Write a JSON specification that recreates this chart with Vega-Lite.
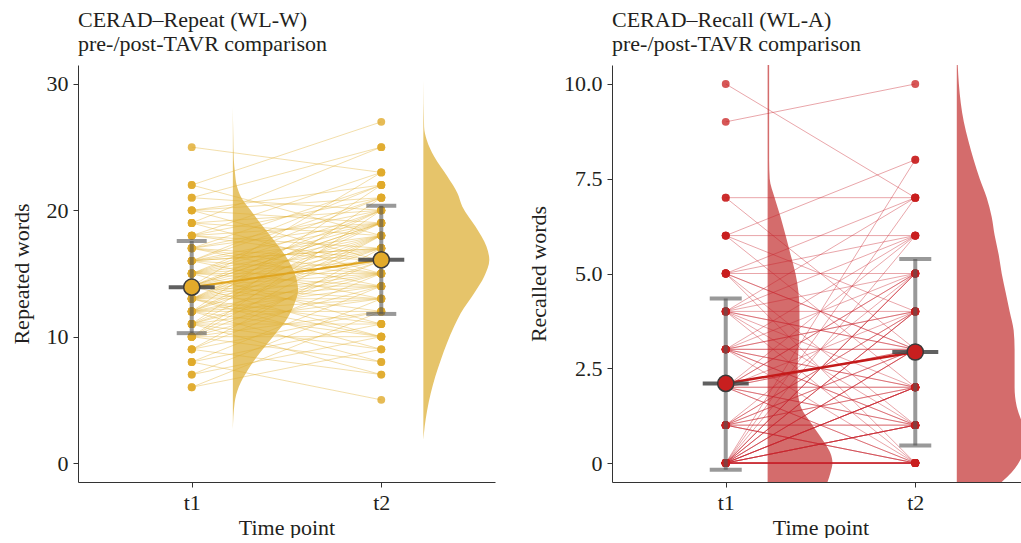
{
"$schema": "https://vega.github.io/schema/vega-lite/v6.json",
"background": "white",
"padding": {"left": 10, "top": 9, "right": 0, "bottom": 0},
"spacing": 117,
"bounds": "flush",
"datasets": {
"L": [{"a":6,"b":9},{"a":6,"b":12},{"a":7,"b":10},{"a":7,"b":13},{"a":8,"b":5},{"a":8,"b":11},{"a":8,"b":14},{"a":9,"b":7},{"a":9,"b":12},{"a":9,"b":15},{"a":9,"b":17},{"a":10,"b":8},{"a":10,"b":10},{"a":10,"b":12},{"a":10,"b":14},{"a":10,"b":16},{"a":10,"b":18},{"a":10,"b":20},{"a":11,"b":7},{"a":11,"b":9},{"a":11,"b":11},{"a":11,"b":13},{"a":11,"b":15},{"a":11,"b":16},{"a":11,"b":18},{"a":11,"b":21},{"a":12,"b":8},{"a":12,"b":10},{"a":12,"b":12},{"a":12,"b":13},{"a":12,"b":14},{"a":12,"b":15},{"a":12,"b":17},{"a":12,"b":18},{"a":12,"b":19},{"a":12,"b":22},{"a":13,"b":9},{"a":13,"b":10},{"a":13,"b":11},{"a":13,"b":13},{"a":13,"b":14},{"a":13,"b":15},{"a":13,"b":16},{"a":13,"b":17},{"a":13,"b":18},{"a":13,"b":19},{"a":13,"b":20},{"a":14,"b":10},{"a":14,"b":12},{"a":14,"b":13},{"a":14,"b":14},{"a":14,"b":15},{"a":14,"b":16},{"a":14,"b":17},{"a":14,"b":18},{"a":14,"b":19},{"a":14,"b":19},{"a":14,"b":20},{"a":14,"b":23},{"a":15,"b":11},{"a":15,"b":14},{"a":15,"b":15},{"a":15,"b":16},{"a":15,"b":17},{"a":15,"b":18},{"a":15,"b":19},{"a":15,"b":20},{"a":15,"b":21},{"a":16,"b":17},{"a":16,"b":13},{"a":16,"b":15},{"a":16,"b":17},{"a":16,"b":18},{"a":16,"b":19},{"a":16,"b":21},{"a":16,"b":22},{"a":17,"b":14},{"a":17,"b":15},{"a":17,"b":16},{"a":17,"b":19},{"a":17,"b":20},{"a":17,"b":22},{"a":18,"b":16},{"a":18,"b":17},{"a":18,"b":19},{"a":18,"b":21},{"a":18,"b":23},{"a":19,"b":15},{"a":19,"b":18},{"a":19,"b":20},{"a":19,"b":25},{"a":20,"b":16},{"a":20,"b":19},{"a":20,"b":21},{"a":20,"b":22},{"a":21,"b":20},{"a":21,"b":25},{"a":22,"b":18},{"a":22,"b":27},{"a":25,"b":23}],
"R": [{"a":10,"b":7},{"a":9,"b":10},{"a":7,"b":7},{"a":7,"b":3},{"a":6,"b":6},{"a":6,"b":8},{"a":6,"b":4},{"a":6,"b":2},{"a":5,"b":6},{"a":5,"b":5},{"a":5,"b":3},{"a":5,"b":1},{"a":5,"b":7},{"a":5,"b":3},{"a":5,"b":0},{"a":4,"b":4},{"a":4,"b":6},{"a":4,"b":5},{"a":4,"b":2},{"a":4,"b":3},{"a":4,"b":1},{"a":4,"b":0},{"a":4,"b":7},{"a":4,"b":3},{"a":3,"b":3},{"a":3,"b":5},{"a":3,"b":2},{"a":3,"b":4},{"a":3,"b":6},{"a":3,"b":1},{"a":3,"b":0},{"a":3,"b":3},{"a":3,"b":1},{"a":3,"b":2},{"a":3,"b":4},{"a":2,"b":2},{"a":2,"b":3},{"a":2,"b":4},{"a":2,"b":5},{"a":2,"b":1},{"a":2,"b":0},{"a":2,"b":6},{"a":2,"b":2},{"a":2,"b":3},{"a":2,"b":1},{"a":2,"b":5},{"a":2,"b":0},{"a":1,"b":1},{"a":1,"b":2},{"a":1,"b":3},{"a":1,"b":0},{"a":1,"b":4},{"a":1,"b":5},{"a":1,"b":2},{"a":1,"b":1},{"a":1,"b":3},{"a":1,"b":0},{"a":1,"b":0},{"a":1,"b":4},{"a":0,"b":0},{"a":0,"b":0},{"a":0,"b":0},{"a":0,"b":0},{"a":0,"b":0},{"a":0,"b":0},{"a":0,"b":0},{"a":0,"b":0},{"a":0,"b":0},{"a":0,"b":1},{"a":0,"b":1},{"a":0,"b":1},{"a":0,"b":1},{"a":0,"b":1},{"a":0,"b":2},{"a":0,"b":2},{"a":0,"b":2},{"a":0,"b":2},{"a":0,"b":2},{"a":0,"b":3},{"a":0,"b":3},{"a":0,"b":3},{"a":0,"b":4},{"a":0,"b":4},{"a":0,"b":4},{"a":0,"b":5},{"a":0,"b":5},{"a":0,"b":5},{"a":0,"b":6},{"a":0,"b":7},{"a":0,"b":8}],
"LS": [{"t":1,"m":13.92,"lo":10.28,"hi":17.57},{"t":2,"m":16.08,"lo":11.8,"hi":20.36}],
"RS": [{"t":1,"m":2.1,"lo":-0.18,"hi":4.34},{"t":2,"m":2.93,"lo":0.46,"hi":5.38}],
"LV": [{"t":1,"v":2.63,"e":1.217},{"t":1,"v":4.74,"e":1.226},{"t":1,"v":6.05,"e":1.249},{"t":1,"v":7.37,"e":1.296},{"t":1,"v":8.69,"e":1.358},{"t":1,"v":10.0,"e":1.429},{"t":1,"v":11.33,"e":1.499},{"t":1,"v":12.65,"e":1.543},{"t":1,"v":13.7,"e":1.561},{"t":1,"v":14.76,"e":1.549},{"t":1,"v":16.08,"e":1.508},{"t":1,"v":17.39,"e":1.446},{"t":1,"v":18.71,"e":1.376},{"t":1,"v":20.03,"e":1.31},{"t":1,"v":21.0,"e":1.262},{"t":1,"v":22.0,"e":1.237},{"t":1,"v":23.0,"e":1.228},{"t":1,"v":24.0,"e":1.222},{"t":1,"v":26.0,"e":1.219},{"t":1,"v":28.2,"e":1.217},
{"t":2,"v":1.84,"e":2.222},{"t":2,"v":2.89,"e":2.229},{"t":2,"v":5.53,"e":2.261},{"t":2,"v":8.16,"e":2.314},{"t":2,"v":10.8,"e":2.384},{"t":2,"v":11.86,"e":2.419},{"t":2,"v":13.44,"e":2.49},{"t":2,"v":14.76,"e":2.543},{"t":2,"v":16.08,"e":2.57},{"t":2,"v":17.13,"e":2.555},{"t":2,"v":18.71,"e":2.497},{"t":2,"v":20.29,"e":2.428},{"t":2,"v":21.35,"e":2.402},{"t":2,"v":22.67,"e":2.349},{"t":2,"v":24.25,"e":2.279},{"t":2,"v":25.57,"e":2.24},{"t":2,"v":26.6,"e":2.226},{"t":2,"v":30.3,"e":2.222}],
"RV": [{"t":1,"v":-0.5,"e":1.537},{"t":1,"v":-0.25,"e":1.553},{"t":1,"v":0,"e":1.563},{"t":1,"v":0.25,"e":1.553},{"t":1,"v":0.5,"e":1.526},{"t":1,"v":1.0,"e":1.458},{"t":1,"v":1.5,"e":1.395},{"t":1,"v":2.0,"e":1.379},{"t":1,"v":2.5,"e":1.379},{"t":1,"v":3.0,"e":1.384},{"t":1,"v":3.5,"e":1.389},{"t":1,"v":4.0,"e":1.389},{"t":1,"v":4.5,"e":1.384},{"t":1,"v":5.0,"e":1.368},{"t":1,"v":5.5,"e":1.342},{"t":1,"v":6.0,"e":1.316},{"t":1,"v":6.5,"e":1.289},{"t":1,"v":7.0,"e":1.258},{"t":1,"v":7.5,"e":1.232},{"t":1,"v":8.0,"e":1.229},{"t":1,"v":10.5,"e":1.229},
{"t":2,"v":-0.5,"e":2.456},{"t":2,"v":-0.25,"e":2.508},{"t":2,"v":0,"e":2.545},{"t":2,"v":0.5,"e":2.577},{"t":2,"v":1.0,"e":2.566},{"t":2,"v":1.5,"e":2.535},{"t":2,"v":2.0,"e":2.524},{"t":2,"v":2.5,"e":2.524},{"t":2,"v":3.0,"e":2.524},{"t":2,"v":3.5,"e":2.519},{"t":2,"v":4.0,"e":2.498},{"t":2,"v":4.5,"e":2.477},{"t":2,"v":5.0,"e":2.456},{"t":2,"v":5.5,"e":2.44},{"t":2,"v":6.0,"e":2.419},{"t":2,"v":6.5,"e":2.403},{"t":2,"v":7.0,"e":2.377},{"t":2,"v":7.5,"e":2.34},{"t":2,"v":8.0,"e":2.308},{"t":2,"v":8.5,"e":2.28},{"t":2,"v":9.0,"e":2.256},{"t":2,"v":9.5,"e":2.24},{"t":2,"v":10.0,"e":2.23},{"t":2,"v":10.5,"e":2.224}]
},
"hconcat": [
{
"width": 417, "height": 417,
"title": {"text": ["CERAD–Repeat (WL-W)", "pre-/post-TAVR comparison"]},
"layer": [
{"data": {"name": "LV"}, "transform": [{"filter": "datum.t == 1"}],
 "mark": {"type": "area", "orient": "horizontal", "interpolate": "monotone", "color": "#E6C46A", "opacity": 1, "clip": true},
 "encoding": {
  "y": {"field": "v", "type": "quantitative", "scale": {"domain": [-1.5, 31.5], "nice": false, "zero": false}, "axis": {"values": [0, 10, 20, 30], "title": "Repeated words"}},
  "x": {"field": "e", "type": "quantitative", "stack": null, "scale": {"domain": [0.4, 2.6], "nice": false, "zero": false}, "axis": {"values": [1, 2], "labelExpr": "'t' + datum.value", "title": "Time point"}},
  "x2": {"datum": 1.217}}},
{"data": {"name": "LV"}, "transform": [{"filter": "datum.t == 2"}],
 "mark": {"type": "area", "orient": "horizontal", "interpolate": "monotone", "color": "#E6C46A", "opacity": 1, "clip": true},
 "encoding": {
  "y": {"field": "v", "type": "quantitative"},
  "x": {"field": "e", "type": "quantitative", "stack": null},
  "x2": {"datum": 2.222}}},
{"data": {"name": "L"},
 "mark": {"type": "rule", "color": "#E0AE30", "opacity": 0.4, "strokeWidth": 1},
 "encoding": {"x": {"datum": 1, "type": "quantitative"}, "x2": {"datum": 2}, "y": {"field": "a", "type": "quantitative"}, "y2": {"field": "b"}}},
{"data": {"name": "L"},
 "mark": {"type": "circle", "size": 62, "color": "#E0AA2A", "opacity": 0.8},
 "encoding": {"x": {"datum": 1, "type": "quantitative"}, "y": {"field": "a", "type": "quantitative"}}},
{"data": {"name": "L"},
 "mark": {"type": "circle", "size": 62, "color": "#E0AA2A", "opacity": 0.8},
 "encoding": {"x": {"datum": 2, "type": "quantitative"}, "y": {"field": "b", "type": "quantitative"}}},
{"data": {"name": "LS"},
 "mark": {"type": "line", "color": "#E0A520", "strokeWidth": 2},
 "encoding": {"x": {"field": "t", "type": "quantitative"}, "y": {"field": "m", "type": "quantitative"}}},
{"data": {"name": "LS"},
 "mark": {"type": "rule", "color": "#555555", "opacity": 0.6, "strokeWidth": 4},
 "encoding": {"x": {"field": "t", "type": "quantitative"}, "y": {"field": "lo", "type": "quantitative"}, "y2": {"field": "hi"}}},
{"data": {"name": "LS"},
 "mark": {"type": "tick", "orient": "horizontal", "size": 30, "thickness": 4, "color": "#555555", "opacity": 0.6},
 "encoding": {"x": {"field": "t", "type": "quantitative"}, "y": {"field": "lo", "type": "quantitative"}}},
{"data": {"name": "LS"},
 "mark": {"type": "tick", "orient": "horizontal", "size": 30, "thickness": 4, "color": "#555555", "opacity": 0.6},
 "encoding": {"x": {"field": "t", "type": "quantitative"}, "y": {"field": "hi", "type": "quantitative"}}},
{"data": {"name": "LS"},
 "mark": {"type": "tick", "orient": "horizontal", "size": 46, "thickness": 4, "color": "#444444", "opacity": 0.85},
 "encoding": {"x": {"field": "t", "type": "quantitative"}, "y": {"field": "m", "type": "quantitative"}}},
{"data": {"name": "LS"},
 "mark": {"type": "point", "filled": true, "size": 260, "color": "#E3AA2A", "stroke": "#3a3a3a", "strokeWidth": 1.5, "opacity": 1},
 "encoding": {"x": {"field": "t", "type": "quantitative"}, "y": {"field": "m", "type": "quantitative"}}}
]
},
{
"width": 417, "height": 417,
"title": {"text": ["CERAD–Recall (WL-A)", "pre-/post-TAVR comparison"]},
"layer": [
{"data": {"name": "RV"}, "transform": [{"filter": "datum.t == 1"}],
 "mark": {"type": "area", "orient": "horizontal", "interpolate": "monotone", "color": "#D46C6C", "opacity": 1, "clip": true},
 "encoding": {
  "y": {"field": "v", "type": "quantitative", "scale": {"domain": [-0.5, 10.5], "nice": false, "zero": false}, "axis": {"values": [0, 2.5, 5, 7.5, 10], "labelExpr": "datum.value == 0 ? '0' : format(datum.value, '.1f')", "title": "Recalled words"}},
  "x": {"field": "e", "type": "quantitative", "stack": null, "scale": {"domain": [0.4, 2.6], "nice": false, "zero": false}, "axis": {"values": [1, 2], "labelExpr": "'t' + datum.value", "title": "Time point"}},
  "x2": {"datum": 1.221}}},
{"data": {"name": "RV"}, "transform": [{"filter": "datum.t == 2"}],
 "mark": {"type": "area", "orient": "horizontal", "interpolate": "monotone", "color": "#D46C6C", "opacity": 1, "clip": true},
 "encoding": {
  "y": {"field": "v", "type": "quantitative"},
  "x": {"field": "e", "type": "quantitative", "stack": null},
  "x2": {"datum": 2.219}}},
{"data": {"name": "R"},
 "mark": {"type": "rule", "color": "#C8202A", "opacity": 0.4, "strokeWidth": 1},
 "encoding": {"x": {"datum": 1, "type": "quantitative"}, "x2": {"datum": 2}, "y": {"field": "a", "type": "quantitative"}, "y2": {"field": "b"}}},
{"data": {"name": "R"},
 "mark": {"type": "circle", "size": 62, "color": "#C81F1F", "opacity": 0.75},
 "encoding": {"x": {"datum": 1, "type": "quantitative"}, "y": {"field": "a", "type": "quantitative"}}},
{"data": {"name": "R"},
 "mark": {"type": "circle", "size": 62, "color": "#C81F1F", "opacity": 0.75},
 "encoding": {"x": {"datum": 2, "type": "quantitative"}, "y": {"field": "b", "type": "quantitative"}}},
{"data": {"name": "RS"},
 "mark": {"type": "line", "color": "#C41A1A", "strokeWidth": 2.5},
 "encoding": {"x": {"field": "t", "type": "quantitative"}, "y": {"field": "m", "type": "quantitative"}}},
{"data": {"name": "RS"},
 "mark": {"type": "rule", "color": "#555555", "opacity": 0.6, "strokeWidth": 4},
 "encoding": {"x": {"field": "t", "type": "quantitative"}, "y": {"field": "lo", "type": "quantitative"}, "y2": {"field": "hi"}}},
{"data": {"name": "RS"},
 "mark": {"type": "tick", "orient": "horizontal", "size": 32, "thickness": 4, "color": "#555555", "opacity": 0.6},
 "encoding": {"x": {"field": "t", "type": "quantitative"}, "y": {"field": "lo", "type": "quantitative"}}},
{"data": {"name": "RS"},
 "mark": {"type": "tick", "orient": "horizontal", "size": 32, "thickness": 4, "color": "#555555", "opacity": 0.6},
 "encoding": {"x": {"field": "t", "type": "quantitative"}, "y": {"field": "hi", "type": "quantitative"}}},
{"data": {"name": "RS"},
 "mark": {"type": "tick", "orient": "horizontal", "size": 46, "thickness": 4, "color": "#444444", "opacity": 0.85},
 "encoding": {"x": {"field": "t", "type": "quantitative"}, "y": {"field": "m", "type": "quantitative"}}},
{"data": {"name": "RS"},
 "mark": {"type": "point", "filled": true, "size": 260, "color": "#C81F1F", "stroke": "#3a3a3a", "strokeWidth": 1.5, "opacity": 1},
 "encoding": {"x": {"field": "t", "type": "quantitative"}, "y": {"field": "m", "type": "quantitative"}}}
]
}
],
"config": {
 "font": "Liberation Serif",
 "view": {"stroke": null},
 "axis": {"grid": false, "domainColor": "#333333", "tickColor": "#333333", "labelColor": "#231F20", "titleColor": "#231F20", "labelFontSize": 22, "titleFontSize": 22, "titleFontWeight": "normal", "labelFont": "Liberation Serif", "titleFont": "Liberation Serif", "tickSize": 5, "labelPadding": 5},
 "axisY": {"titlePadding": 13},
 "axisX": {"titlePadding": 4},
 "title": {"font": "Liberation Serif", "fontSize": 22, "fontWeight": "normal", "anchor": "start", "frame": "group", "color": "#231F20", "lineHeight": 24, "offset": 9}
}
}
